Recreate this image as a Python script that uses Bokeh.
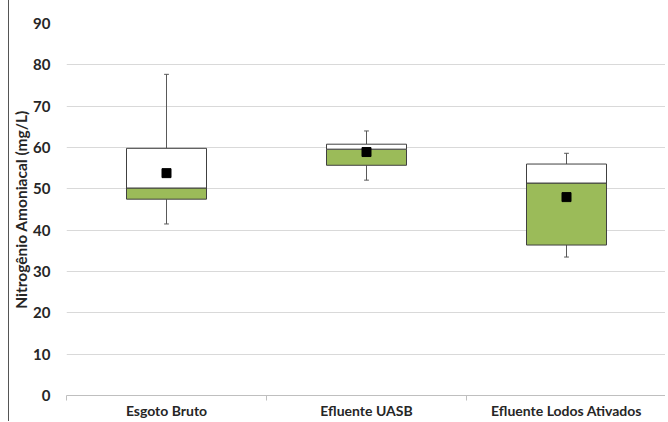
from bokeh.plotting import figure
from bokeh.models import FixedTicker, ColumnDataSource, Range1d
from bokeh.embed import file_html
from bokeh.resources import INLINE

categories = ["Esgoto Bruto", "Efluente UASB", "Efluente Lodos Ativados"]
whisker_low = [41.5, 52.1, 33.5]
q1 = [47.5, 55.7, 36.4]
median = [50.2, 59.6, 51.4]
q3 = [59.8, 60.8, 56.0]
whisker_high = [77.7, 64.0, 58.6]
mean = [53.8, 58.9, 48.0]
y_ticks = [0, 10, 20, 30, 40, 50, 60, 70, 80, 90]

xs = [i + 0.5 for i in range(len(categories))]
src = ColumnDataSource(dict(x=xs, wl=whisker_low, q1=q1, med=median, q3=q3,
                            wh=whisker_high, mean=mean))

p = figure(width=657, height=421, output_backend="svg", toolbar_location=None,
           x_range=Range1d(0, 3), y_range=Range1d(0, 90),
           min_border_left=55, min_border_right=0, min_border_top=23, min_border_bottom=0)
p.outline_line_color = None
p.styles = {"border-left": "1px solid #555555", "margin-left": "8px"}

# whiskers
p.segment(x0="x", y0="q3", x1="x", y1="wh", source=src, line_color="#595959", line_width=1)
p.segment(x0="x", y0="wl", x1="x", y1="q1", source=src, line_color="#595959", line_width=1)
cap = 0.012
p.segment(x0=[x - cap for x in xs], y0=whisker_high, x1=[x + cap for x in xs], y1=whisker_high,
          line_color="#595959", line_width=1)
p.segment(x0=[x - cap for x in xs], y0=whisker_low, x1=[x + cap for x in xs], y1=whisker_low,
          line_color="#595959", line_width=1)

# boxes
bw = 0.4
p.vbar(x="x", width=bw, bottom="q1", top="med", source=src, fill_color="#9bbb59",
       line_color="#404040", line_width=1)
p.vbar(x="x", width=bw, bottom="med", top="q3", source=src, fill_color="white",
       line_color="#404040", line_width=1)

# mean
p.scatter(x="x", y="mean", source=src, marker="square", size=9, fill_color="black", line_color="black")

font = "Lato"
p.yaxis.ticker = FixedTicker(ticks=y_ticks)
p.yaxis.axis_line_color = None
p.yaxis.major_tick_line_color = None
p.yaxis.minor_tick_line_color = None
p.yaxis.major_label_text_font = font
p.yaxis.major_label_text_font_style = "bold"
p.yaxis.major_label_text_font_size = "15px"
p.yaxis.major_label_text_color = "#262626"
p.yaxis.major_label_standoff = 10
p.yaxis.axis_label = "Nitrogênio Amoniacal (mg/L)"
p.yaxis.axis_label_text_font = font
p.yaxis.axis_label_text_font_style = "bold"
p.yaxis.axis_label_text_font_size = "15.5px"
p.yaxis.axis_label_text_color = "#262626"
p.yaxis.axis_label_standoff = 0

p.xaxis.ticker = FixedTicker(ticks=xs, minor_ticks=[0, 1, 2, 3])
p.xaxis.major_label_overrides = {x: c for x, c in zip(xs, categories)}
p.xaxis.major_tick_line_color = None
p.xaxis.minor_tick_line_color = "#bfbfbf"
p.xaxis.minor_tick_out = 5
p.xaxis.minor_tick_in = 0
p.xaxis.axis_line_color = "#bfbfbf"
p.xaxis.major_label_text_font = font
p.xaxis.major_label_text_font_style = "bold"
p.xaxis.major_label_text_font_size = "14px"
p.xaxis.major_label_text_color = "#262626"
p.xaxis.major_label_standoff = 0

p.xgrid.grid_line_color = None
p.ygrid.grid_line_color = "#d9d9d9"
p.ygrid.ticker = FixedTicker(ticks=y_ticks)

open("out.html", "w").write(file_html(p, INLINE))
